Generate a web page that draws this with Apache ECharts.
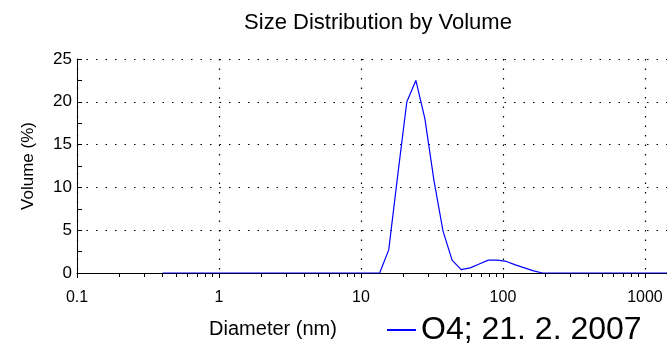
<!DOCTYPE html>
<html>
<head>
<meta charset="utf-8">
<script src="https://cdn.jsdelivr.net/npm/echarts@6/dist/echarts.min.js"></script>
<style>
  html, body { margin: 0; padding: 0; background: #fff; }
  #chart { width: 667px; height: 343px; }
</style>
</head>
<body>
<div id="chart"></div>
<script>
// Size classes (nm) of the measurement
const diameters = [
  0.4, 0.4632, 0.5365, 0.6213, 0.7195, 0.8332, 0.9649, 1.117, 1.294, 1.499,
  1.736, 2.01, 2.328, 2.696, 3.122, 3.615, 4.187, 4.849, 5.615, 6.503,
  7.531, 8.721, 10.1, 11.7, 13.54, 15.69, 18.17, 21.04, 24.36, 28.21,
  32.67, 37.84, 43.82, 50.75, 58.77, 68.06, 78.82, 91.28, 105.7, 122.4,
  141.8, 164.2, 190.1, 220.2, 255, 295.3, 342, 396.1, 458.7, 531.2,
  615.1, 712.4, 825, 955.4, 1106, 1281, 1484, 1718, 1990, 2305,
  2669, 3091, 3580, 4145, 4801, 5560, 6439, 7456, 8635, 10000
];

// Volume fraction (%) per size class
const volumes = [
  0, 0, 0, 0, 0, 0, 0, 0, 0, 0,
  0, 0, 0, 0, 0, 0, 0, 0, 0, 0,
  0, 0, 0, 0, 0, 2.7, 11.5, 20.0, 22.5, 18.0,
  10.8, 4.9, 1.5, 0.4, 0.6, 1.05, 1.5, 1.5, 1.35, 0.95,
  0.6, 0.25, 0, 0, 0, 0, 0, 0, 0, 0,
  0, 0, 0, 0, 0, 0, 0, 0, 0, 0,
  0, 0, 0, 0, 0, 0, 0, 0, 0, 0
];

const seriesName = 'O4; 21. 2. 2007';
const chartTitle = 'Size Distribution by Volume';
const xTitle = 'Diameter (nm)';
const yTitle = 'Volume (%)';

// Visible size range (nm); the view ends a little past 1000
const xMin = 0.1;
const xMax = 1430;

// Minor tick positions on the logarithmic size axis: 2..9 per decade
const minorTickValues = [0.2, 0.3, 0.4, 0.5, 0.6, 0.7, 0.8, 0.9,
  2, 3, 4, 5, 6, 7, 8, 9,
  20, 30, 40, 50, 60, 70, 80, 90,
  200, 300, 400, 500, 600, 700, 800, 900];

const FONT = 'Liberation Sans, Arial, sans-serif';
const dotted = { color: '#000', width: 1.2, type: [1.5, 8] };

// Label only whole decades
const decadeLabel = v => {
  const e = Math.log10(v);
  return Math.abs(e - Math.round(e)) < 1e-6 ? String(v) : '';
};

const chart = echarts.init(document.getElementById('chart'), null, { renderer: 'canvas' });

chart.setOption({
  animation: false,
  backgroundColor: '#fff',
  title: [
    {
      text: chartTitle,
      left: 373, top: 7, textAlign: 'center',
      textStyle: { fontFamily: FONT, fontSize: 22, fontWeight: 'normal', color: '#000' }
    },
    {
      text: xTitle,
      left: 268, top: 314, textAlign: 'center',
      textStyle: { fontFamily: FONT, fontSize: 20, fontWeight: 'normal', color: '#000' }
    }
  ],
  legend: {
    data: [seriesName],
    left: 382, top: 309,
    icon: 'rect',
    itemWidth: 29, itemHeight: 2,
    itemGap: 5,
    textStyle: { fontFamily: FONT, fontSize: 32, color: '#000' }
  },
  grid: { left: 77, top: 59, right: 0, bottom: 70, containLabel: false },
  xAxis: [
    {
      type: 'log', logBase: 10, min: xMin, max: xMax,
      axisLine: { show: true, lineStyle: { color: '#000', width: 1 } },
      axisTick: { show: true, inside: false, length: 5, lineStyle: { color: '#000' } },
      axisLabel: {
        fontFamily: FONT, fontSize: 16, color: '#000', margin: 17,
        showMaxLabel: false,
        formatter: decadeLabel
      },
      splitLine: { show: true, showMaxLine: false, lineStyle: dotted }
    },
    {
      type: 'log', logBase: 10, min: xMin, max: xMax, position: 'bottom',
      axisLine: { show: false },
      axisTick: { show: true, inside: false, length: 4, customValues: minorTickValues,
        lineStyle: { color: '#000' } },
      axisLabel: { show: false },
      splitLine: { show: false }
    }
  ],
  yAxis: {
    type: 'value', min: 0, max: 25, interval: 5,
    axisLine: { show: true, lineStyle: { color: '#000', width: 1 } },
    axisTick: { show: true, inside: true, length: 5, lineStyle: { color: '#000' } },
    minorTick: { show: true, splitNumber: 2, length: 5, lineStyle: { color: '#000' } },
    axisLabel: { fontFamily: FONT, fontSize: 17, color: '#000', margin: 5 },
    splitLine: { show: true, lineStyle: dotted },
    name: yTitle, nameLocation: 'middle', nameGap: 40,
    nameTextStyle: { fontFamily: FONT, fontSize: 17, color: '#000' }
  },
  series: [
    {
      name: seriesName,
      type: 'line',
      xAxisIndex: 0,
      data: diameters.map((d, i) => [d, volumes[i]]),
      showSymbol: false,
      symbol: 'none',
      lineStyle: { color: '#0000ff', width: 1.2 },
      itemStyle: { color: '#0000ff' }
    }
  ]
});
</script>
</body>
</html>
